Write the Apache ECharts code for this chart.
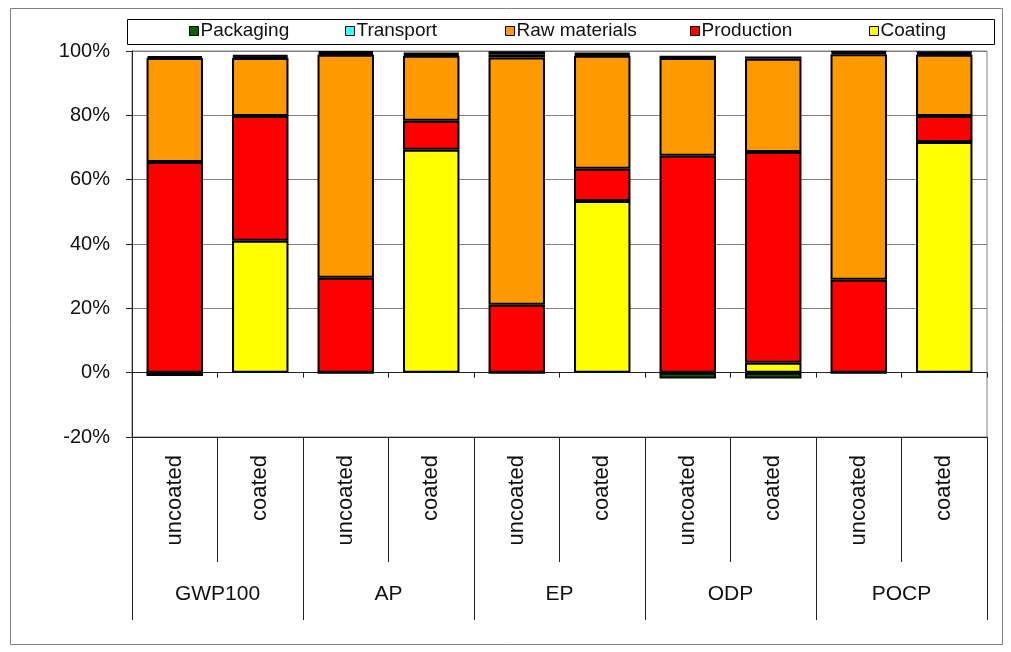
<!DOCTYPE html>
<html>
<head>
<meta charset="utf-8">
<script src="https://cdn.jsdelivr.net/npm/echarts@6/dist/echarts.min.js"></script>
<style>
  html, body { margin: 0; padding: 0; background: #fff; }
  #chart { width: 1011px; height: 652px; }
</style>
</head>
<body>
<div id="chart"></div>
<script>
// Impact categories and the two product variants inside each
const groups = ['GWP100', 'AP', 'EP', 'ODP', 'POCP'];
const variants = ['uncoated', 'coated', 'uncoated', 'coated', 'uncoated', 'coated', 'uncoated', 'coated', 'uncoated', 'coated'];

// Share of each life-cycle stage (%), stacked from the bottom up
const coating      = [0, 41.0, 0, 69.3, 0, 53.4, 0, 3.1, 0, 71.7];
const production   = [65.5, 38.8, 29.5, 9.0, 21.1, 10.0, 67.4, 65.5, 28.9, 8.1];
const rawMaterials = [32.3, 18.0, 69.3, 20.2, 76.9, 35.1, 30.4, 29.0, 70.1, 19.0];
const transport    = [0.6, 0.5, 0.6, 0.5, 1.0, 0.5, 0.7, 0.7, 0.6, 0.6];
const packaging    = [-1.0, 0.5, 0.6, 0.4, 0.9, 0.4, -1.8, -1.8, 0.4, 0.4];

const yTicks = { min: -20, max: 100, interval: 20 };

const FONT = '"Liberation Sans", Arial, sans-serif';
const barBorder = { borderColor: '#000', borderWidth: 2 };

function stage(name, values, color) {
  return {
    name: name,
    type: 'bar',
    stack: 'total',
    xAxisIndex: 0,
    barWidth: '66%',
    data: values,
    itemStyle: Object.assign({ color: color }, barBorder)
  };
}

const legendItems = [
  { name: 'Packaging', left: 189 },
  { name: 'Transport', left: 345 },
  { name: 'Raw materials', left: 505 },
  { name: 'Production', left: 690 },
  { name: 'Coating', left: 869 }
];

const chart = echarts.init(document.getElementById('chart'));
chart.setOption({
  animation: false,
  backgroundColor: '#fff',
  graphic: [
    { type: 'rect', z: -10, shape: { x: 10.5, y: 8.5, width: 992, height: 636 },
      style: { fill: '#fff', stroke: '#808080', lineWidth: 1 } },
    { type: 'rect', z: -5, shape: { x: 127.5, y: 19.5, width: 867, height: 25 },
      style: { fill: '#fff', stroke: '#000', lineWidth: 1 } }
  ],
  legend: legendItems.map(function (it) {
    return {
      data: [it.name],
      left: it.left,
      top: 21,
      padding: 0,
      itemWidth: 9,
      itemHeight: 9,
      icon: 'rect',
      itemStyle: { borderWidth: 1 },
      textStyle: { fontFamily: FONT, fontSize: 19, color: '#111', lineHeight: 20, padding: [0, 0, 0, -3] }
    };
  }),
  grid: {
    left: 132, right: 24, top: 51, bottom: 215,
    show: true, borderColor: '#808080', borderWidth: 1, backgroundColor: '#fff'
  },
  xAxis: [
    {
      type: 'category',
      data: variants,
      axisLine: { onZero: true, lineStyle: { color: '#222', width: 1 } },
      axisTick: { show: true, interval: 0, length: 5, lineStyle: { color: '#222' } },
      axisLabel: { show: false },
      splitLine: { show: false }
    },
    {
      type: 'category',
      data: variants,
      position: 'bottom',
      axisLine: { onZero: false, lineStyle: { color: '#222', width: 1 } },
      axisTick: { show: true, interval: 0, length: 125, lineStyle: { color: '#222' } },
      axisLabel: { interval: 0, rotate: 90, margin: 18, fontFamily: FONT, fontSize: 22, color: '#111' },
      splitLine: { show: false }
    },
    {
      type: 'category',
      data: groups,
      position: 'bottom',
      axisLine: { show: false, onZero: false },
      axisTick: { show: true, interval: 0, length: 183, lineStyle: { color: '#222' } },
      axisLabel: { interval: 0, margin: 147, fontFamily: FONT, fontSize: 21, color: '#111' },
      splitLine: { show: false }
    }
  ],
  yAxis: {
    type: 'value',
    min: yTicks.min,
    max: yTicks.max,
    interval: yTicks.interval,
    axisLine: { show: true, lineStyle: { color: '#222', width: 1 } },
    axisTick: { show: true, length: 6, lineStyle: { color: '#222' } },
    axisLabel: { formatter: '{value}%', margin: 22, fontFamily: FONT, fontSize: 20, color: '#111' },
    splitLine: { show: true, lineStyle: { color: '#808080', width: 1 } }
  },
  series: [
    stage('Coating', coating, '#ffff00'),
    stage('Production', production, '#ff0000'),
    stage('Raw materials', rawMaterials, '#ff9900'),
    stage('Transport', transport, '#33ffff'),
    stage('Packaging', packaging, '#006400')
  ]
});
</script>
</body>
</html>
